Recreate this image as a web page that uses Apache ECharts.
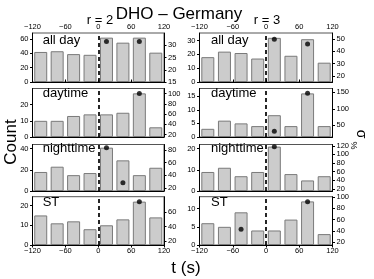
<!DOCTYPE html>
<html><head><meta charset="utf-8">
<script src="https://cdn.jsdelivr.net/npm/echarts@6/dist/echarts.min.js"></script>
<style>html,body{margin:0;padding:0;background:#fff}#c{width:374px;height:279px}</style>
</head><body><div id="c"></div>
<script>
// ---- data ----
const bins = [-105, -75, -45, -15, 15, 45, 75, 105];
const xTicks = [-120, -60, 0, 60, 120];
const panelNames = ['all day', 'daytime', 'nighttime', 'ST'];
const columnTitles = ['r = 2', 'r = 3'];
const mainTitle = 'DHO \u2013 Germany';
// counts, r = 2
const r2AllDay = [42, 43, 39, 38, 62, 55, 62, 41];
const r2Daytime = [10, 10, 13, 14, 14, 15, 27, 6];
const r2Nighttime = [18, 23, 15, 17, 41, 29, 15, 22];
const r2ST = [15, 11, 12, 8, 10, 13, 22, 14];
// counts, r = 3
const r3AllDay = [18, 22, 21, 17, 32, 19, 31, 14];
const r3Daytime = [3, 6, 5, 4, 8, 4, 16, 4];
const r3Nighttime = [9, 11, 7, 9, 21, 8, 5, 7];
const r3ST = [6, 5, 9, 4, 4, 7, 12, 3];
// sigma % points [t, sigma]
const r2AllDaySigma = [[15, 31.5], [75, 31.5]];
const r2DaytimeSigma = [[75, 100]];
const r2NighttimeSigma = [[15, 84], [45, 28]];
const r2STSigma = [[75, 74]];
const r3AllDaySigma = [[15, 50], [75, 46]];
const r3DaytimeSigma = [[15, 32], [75, 147]];
const r3NighttimeSigma = [[15, 118]];
const r3STSigma = [[-45, 43], [75, 91.5]];
// axis ranges and tick labels (rows x columns)
const countMax = [[68.5, 35.5], [30, 17.8], [44, 22], [24.5, 13.3]];
const countTicks = [[[0, 20, 40, 60], [0, 10, 20, 30]], [[0, 10, 20], [0, 5, 10, 15]], [[0, 20, 40], [0, 10, 20]], [[0, 10, 20], [0, 5, 10]]];
const sigmaMin = 15;
const sigmaMax = [[35, 55], [110, 161], [89, 123], [81, 100.5]];
const sigmaTicks = [[[15, 20, 25, 30], [20, 30, 40, 50]], [[20, 40, 60, 80, 100], [50, 100, 150]], [[20, 40, 60, 80], [20, 40, 60, 80, 100, 120]], [[20, 40, 60], [20, 40, 60, 80, 100]]];

const counts = [[r2AllDay, r3AllDay], [r2Daytime, r3Daytime], [r2Nighttime, r3Nighttime], [r2ST, r3ST]];
const sigmas = [[r2AllDaySigma, r3AllDaySigma], [r2DaytimeSigma, r3DaytimeSigma], [r2NighttimeSigma, r3NighttimeSigma], [r2STSigma, r3STSigma]];

// ---- layout ----
const colLeft = [32.5, 199.5], colWidth = [131.5, 133];
const rowTop = [33, 88.5, 144.5, 196.7], rowHeight = [49, 48.5, 46.5, 48.3];
const labelY = [41.7, 95, 150.3, 203.5];
const labelX = [42.7, 211];
const font = '"Liberation Sans", Arial, Helvetica, sans-serif';
const fmt = v => String(v).replace('-', '\u2212');
const tickFont = { fontSize: 7.5, color: '#000', fontFamily: font };

const grids = [], xAxes = [], yAxes = [], series = [], graphics = [];
for (let r = 0; r < 4; r++) {
  for (let c = 0; c < 2; c++) {
    const g = grids.length;
    grids.push({ left: colLeft[c], top: rowTop[r], width: colWidth[c], height: rowHeight[r], show: true, borderColor: '#555', borderWidth: 1, backgroundColor: 'transparent' });
    xAxes.push({
      type: 'value', gridIndex: g, min: -120, max: 120, interval: 60, position: 'bottom',
      axisLine: { show: true, onZero: false, lineStyle: { color: '#000', width: 1 } },
      axisTick: { show: r === 3, length: 2.5, lineStyle: { color: '#000' } },
      axisLabel: Object.assign({ show: r === 3, margin: 2, formatter: fmt }, tickFont),
      splitLine: { show: false }
    });
    yAxes.push({
      type: 'value', gridIndex: g, position: 'left', min: 0, max: countMax[r][c],
      axisLine: { show: true, onZero: false, lineStyle: { color: '#000', width: 1 } },
      axisTick: { show: true, length: 2.5, customValues: countTicks[r][c], lineStyle: { color: '#000' } },
      axisLabel: Object.assign({ margin: 4, customValues: countTicks[r][c] }, tickFont),
      splitLine: { show: false }
    });
    yAxes.push({
      type: 'value', gridIndex: g, position: 'right', min: sigmaMin, max: sigmaMax[r][c],
      axisLine: { show: true, onZero: false, lineStyle: { color: '#000', width: 1 } },
      axisTick: { show: true, length: 2.5, customValues: sigmaTicks[r][c], lineStyle: { color: '#000' } },
      axisLabel: Object.assign({ margin: 4, customValues: sigmaTicks[r][c] }, tickFont),
      splitLine: { show: false }
    });
    series.push({
      type: 'bar', xAxisIndex: g, yAxisIndex: 2 * g, barWidth: 13,
      data: bins.map((b, i) => [b, counts[r][c][i]]),
      itemStyle: { color: '#cccccc', borderColor: '#7a7a7a', borderWidth: 1 },
      markLine: { silent: true, symbol: ['none', 'none'], label: { show: false },
        lineStyle: { color: '#000', type: [4, 3], width: 1.7 }, data: [{ xAxis: 0 }] }
    });
    series.push({
      type: 'scatter', xAxisIndex: g, yAxisIndex: 2 * g + 1, symbolSize: 5, z: 5,
      data: sigmas[r][c], itemStyle: { color: '#000' }
    });
    graphics.push({ type: 'text', left: labelX[c], top: labelY[r] - 8,
      style: { text: panelNames[r], fontSize: 13, fontFamily: font, fill: '#000' } });
  }
}
// top axes for first row
for (let c = 0; c < 2; c++) {
  xAxes.push({
    type: 'value', gridIndex: c, min: -120, max: 120, interval: 60, position: 'top',
    axisLine: { show: false }, axisTick: { show: true, length: 2.5, lineStyle: { color: '#000' } },
    axisLabel: Object.assign({ margin: 2, formatter: fmt }, tickFont), splitLine: { show: false }
  });
}

const chart = echarts.init(document.getElementById('c'), null, { renderer: 'canvas' });
chart.setOption({
  animation: false,
  backgroundColor: '#fff',
  grid: grids, xAxis: xAxes, yAxis: yAxes, series: series,
  graphic: graphics.concat([
    { type: 'text', x: 179, y: 14, style: { text: mainTitle, fontSize: 17, fontFamily: font, fill: '#000', align: 'center', verticalAlign: 'middle' } },
    { type: 'text', x: 100, y: 20, style: { text: columnTitles[0], fontSize: 13, fontFamily: font, fill: '#000', align: 'center', verticalAlign: 'middle' } },
    { type: 'text', x: 267, y: 20, style: { text: columnTitles[1], fontSize: 13, fontFamily: font, fill: '#000', align: 'center', verticalAlign: 'middle' } },
    { type: 'text', x: 11, y: 142, rotation: Math.PI / 2, style: { text: 'Count', fontSize: 17, fontFamily: font, fill: '#000', align: 'center', verticalAlign: 'middle' } },
    { type: 'text', x: 186, y: 268.5, style: { text: 't (s)', fontSize: 17, fontFamily: font, fill: '#000', align: 'center', verticalAlign: 'middle' } },
    { type: 'text', x: 361, y: 134, rotation: -Math.PI / 2, style: { text: '\u03c3', fontSize: 14, fontFamily: font, fill: '#000', align: 'center', verticalAlign: 'middle' } },
    { type: 'text', x: 353, y: 145.5, rotation: -Math.PI / 2, style: { text: '%', fontSize: 9, fontFamily: font, fill: '#000', align: 'center', verticalAlign: 'middle' } }
  ])
});
</script></body></html>
